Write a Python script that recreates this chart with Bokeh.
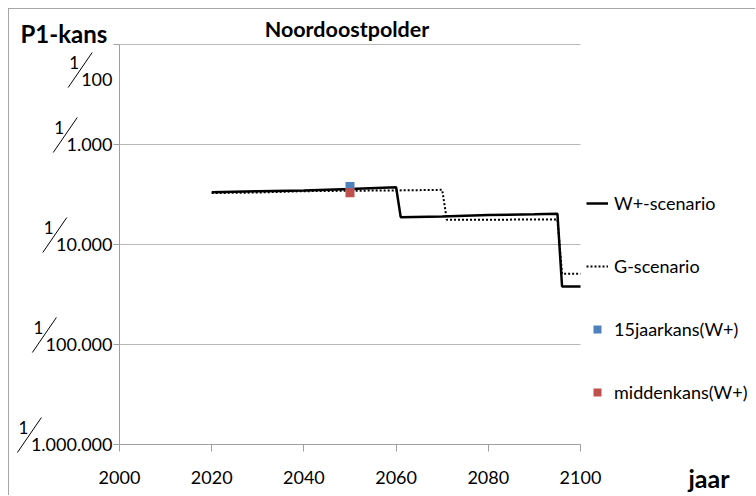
import math
from bokeh.plotting import figure
from bokeh.models import Range1d, FixedTicker, Label, Legend, LegendItem
from bokeh.embed import file_html
from bokeh.resources import INLINE

# ---- data (return periods T, probability = 1/T) ----
years_w = [2020, 2030, 2040, 2050, 2060, 2061, 2070, 2080, 2090, 2095, 2096, 2100]
T_w = [3000, 2930, 2880, 2790, 2670, 5330, 5250, 5070, 4990, 4930, 26300, 26300]
years_g = [2020, 2030, 2040, 2050, 2060, 2070, 2071, 2080, 2090, 2095, 2096, 2100]
T_g = [3060, 3020, 2930, 2900, 2880, 2840, 5660, 5660, 5620, 5620, 19600, 19600]
years_15 = [2050]
T_15 = [2630]
years_mid = [2050]
T_mid = [3040]
y_ticks_T = [100, 1000, 10000, 100000, 1000000]
y_tick_denoms = ["100", "1.000", "10.000", "100.000", "1.000.000"]
x_ticks = [2000, 2020, 2040, 2060, 2080, 2100]
series_names = ["W+-scenario", "G-scenario", "15jaarkans(W+)", "middenkans(W+)"]

FONT = "Lato"
AXIS_C = "#a0a0a0"
GRID_C = "#b8b8b8"
TICK_FS = 18

p_w = [1.0 / t for t in T_w]
p_g = [1.0 / t for t in T_g]
p_15 = [1.0 / t for t in T_15]
p_mid = [1.0 / t for t in T_mid]
y_ticks = [1.0 / t for t in y_ticks_T]

# ---- layout (canvas pixels) ----
W, H = 747, 487
PL, PR, PT, PB = 110, 571, 35, 435          # plot area inside the canvas
X0, X1 = x_ticks[0], x_ticks[-1]
Y0, Y1 = min(y_ticks), max(y_ticks)
xpp = (X1 - X0) / (PR - PL)
dpp = (math.log10(Y1) - math.log10(Y0)) / (PB - PT)
x_range = Range1d(X0 - PL * xpp, X1 + (W - PR) * xpp)
y_range = Range1d(10 ** (math.log10(Y0) - (H - PB) * dpp), 10 ** (math.log10(Y1) + PT * dpp))

p = figure(width=W, height=H, x_range=x_range, y_range=y_range, y_axis_type="log",
           output_backend="svg", toolbar_location=None,
           min_border=0, min_border_left=0, min_border_right=0,
           min_border_top=0, min_border_bottom=0,
           margin=(8, 0, 0, 8),
           styles={"border-left": "1px solid #a6a6a6", "border-top": "1px solid #a6a6a6"})
p.outline_line_color = None
p.background_fill_color = "white"
p.border_fill_color = "white"
p.xgrid.visible = False
p.ygrid.visible = False

# x axis
xa = p.xaxis[0]
xa.fixed_location = Y0
xa.bounds = (X0, X1)
xa.ticker = FixedTicker(ticks=x_ticks)
xa.axis_line_color = AXIS_C
xa.major_tick_line_color = AXIS_C
xa.major_tick_out = 7
xa.major_tick_in = 0
xa.minor_tick_line_color = None
xa.major_label_text_font = FONT
xa.major_label_text_font_size = f"{TICK_FS}px"
xa.major_label_text_color = "black"
xa.major_label_standoff = 19

# y axis
ya = p.yaxis[0]
ya.fixed_location = X0
ya.bounds = (Y0, Y1)
ya.ticker = FixedTicker(ticks=y_ticks)
ya.axis_line_color = AXIS_C
ya.major_tick_line_color = AXIS_C
ya.major_tick_out = 6
ya.major_tick_in = 0
ya.minor_tick_line_color = None
ya.major_label_text_font = FONT
ya.major_label_text_font_size = f"{TICK_FS}px"
ya.major_label_text_color = "black"
ya.major_label_standoff = 1
overrides = {}
for t, d in zip(y_ticks, y_tick_denoms):
    overrides[t] = "" if t == Y1 else d
ya.major_label_overrides = overrides

# horizontal gridlines at the y ticks, across the plot area only
p.segment(x0=[X0] * len(y_ticks), x1=[X1] * len(y_ticks), y0=y_ticks, y1=y_ticks,
          line_color=GRID_C, line_width=1, level="underlay")

# series
r_w = p.line(years_w, p_w, line_color="black", line_width=2.5)
r_g = p.line(years_g, p_g, line_color="black", line_width=2, line_dash="2 2")
r_15 = p.scatter(years_15, p_15, marker="square", size=9, fill_color="#4F81BD", line_color=None)
r_mid = p.scatter(years_mid, p_mid, marker="square", size=9, fill_color="#C0504D", line_color=None)

legend = Legend(items=[LegendItem(label=series_names[0], renderers=[r_w]),
                       LegendItem(label=series_names[1], renderers=[r_g]),
                       LegendItem(label=series_names[2], renderers=[r_15]),
                       LegendItem(label=series_names[3], renderers=[r_mid])],
                location=(PR + 6, 93), padding=0, margin=0, spacing=41,
                glyph_width=22, glyph_height=20, label_height=20, label_standoff=6,
                border_line_color=None, background_fill_alpha=0,
                label_text_font=FONT, label_text_font_size="18px",
                label_text_color="black")
p.add_layout(legend)

# fraction-style pieces of the y tick labels ("1" over a slash over the denominator)
def text_width(s, size=TICK_FS):
    w = 0.0
    for ch in s:
        w += 0.25 if ch == "." else 0.58
    return w * size

def xdata(t_off):
    return X0 + t_off * xpp

def ydata(t, up):
    return t * 10 ** (up * dpp)

sx0, sx1, sy0, sy1 = [], [], [], []
for t, d in zip(y_ticks, y_tick_denoms):
    w = text_width(d)
    dy = 0
    if t == Y1:
        dy = -35
        p.add_layout(Label(x=X0, y=t, x_offset=-7, y_offset=dy, text=d,
                           text_align="right", text_baseline="middle",
                           text_font=FONT, text_font_size=f"{TICK_FS}px", text_color="black"))
    left = -7 - w
    p.add_layout(Label(x=X0, y=t, x_offset=left - 7, y_offset=dy + 17, text="1",
                       text_align="center", text_baseline="middle",
                       text_font=FONT, text_font_size="17px", text_color="black"))
    sx0.append(xdata(left - 13)); sy0.append(ydata(t, dy - 8))
    sx1.append(xdata(left + 11)); sy1.append(ydata(t, dy + 27))
p.segment(x0=sx0, y0=sy0, x1=sx1, y1=sy1, line_color="black", line_width=1)

# title and axis titles
p.add_layout(Label(x=(X0 + X1) / 2, y=Y1, x_offset=-3, y_offset=16, text="Noordoostpolder",
                   text_align="center", text_baseline="middle",
                   text_font=FONT, text_font_size="21.5px", text_font_style="bold",
                   text_color="black"))
p.add_layout(Label(x=X0, y=Y1, x_offset=-99, y_offset=11, text="P1-kans",
                   text_align="left", text_baseline="middle",
                   text_font=FONT, text_font_size="24px", text_font_style="bold",
                   text_color="black"))
p.add_layout(Label(x=X1, y=Y0, x_offset=108, y_offset=-33, text="jaar",
                   text_align="left", text_baseline="middle",
                   text_font=FONT, text_font_size="25px", text_font_style="bold",
                   text_color="black"))

open("out.html", "w").write(file_html(p, INLINE))
